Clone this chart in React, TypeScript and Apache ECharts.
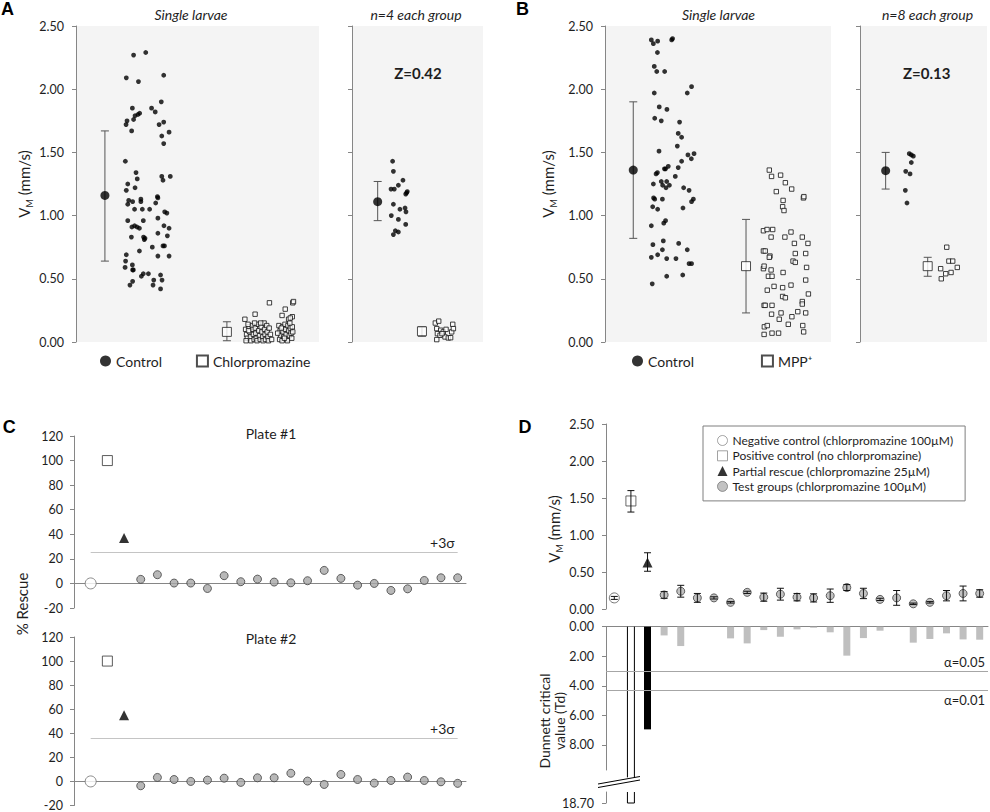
import React, { useEffect, useRef } from 'react';
import * as echarts from 'echarts';

const FONT = 'Lato, "Noto Sans", "DejaVu Sans", sans-serif';
const AX = '#868686';
const TXT = '#1e1e1e';
const BG = '#f4f4f4';

// ---------- Panel A : single larvae (x = jitter within the plot, y = V_M mm/s)
const A_SINGLE_CONTROL: number[][] = [
  [2.87,2.29],[2.37,2.27],[2.07,2.09],[3.61,2.11],[2.57,2.06],[3.51,1.90],[2.32,1.85],[3.11,1.85],[3.26,1.82],[2.43,1.79],
  [2.55,1.80],[2.62,1.81],[2.10,1.75],[2.06,1.72],[2.37,1.76],[3.42,1.72],[3.61,1.74],[2.29,1.67],[3.83,1.66],[3.53,1.63],
  [3.61,1.57],[2.03,1.43],[3.53,1.31],[3.58,1.28],[3.88,1.31],[2.47,1.34],[2.13,1.25],[2.52,1.29],[2.07,1.20],[2.43,1.22],
  [2.17,1.12],[2.13,1.09],[2.33,1.11],[2.67,1.13],[2.67,1.11],[3.28,1.10],[3.37,1.14],[2.41,1.05],[2.73,1.05],[3.03,1.05],
  [3.35,1.15],[3.65,1.03],[3.74,1.02],[2.13,0.96],[2.77,0.96],[3.37,0.98],[2.30,0.91],[2.41,0.92],[2.51,0.91],[2.61,0.90],
  [3.62,0.92],[3.83,0.90],[2.28,0.83],[2.78,0.83],[2.84,0.82],[2.81,0.81],[3.37,0.86],[3.76,0.84],[3.64,0.76],[2.61,0.72],
  [3.14,0.75],[3.58,0.76],[3.37,0.68],[3.83,0.68],[2.07,0.69],[2.04,0.64],[2.02,0.59],[2.32,0.61],[2.36,0.57],[2.77,0.54],
  [2.98,0.54],[2.33,0.57],[2.69,0.52],[3.48,0.53],[3.20,0.49],[2.33,0.48],[2.22,0.45],[3.17,0.45],[3.54,0.49],[3.48,0.42]
];
const A_SINGLE_CHLOR: number[][] = [
  [6.98,0.10],[7.02,0.06],[7.05,0.03],[7.00,0.01],[7.12,0.12],[7.15,0.08],[7.18,0.04],[7.20,0.01],[7.25,0.13],[7.28,0.10],
  [7.30,0.06],[7.33,0.02],[7.38,0.11],[7.40,0.07],[7.42,0.03],[7.45,0.01],[7.50,0.14],[7.52,0.09],[7.55,0.05],[7.58,0.02],
  [7.62,0.12],[7.65,0.08],[7.68,0.04],[7.70,0.01],[7.74,0.15],[7.76,0.10],[7.78,0.06],[7.80,0.02],[7.85,0.13],[7.87,0.08],
  [7.90,0.04],[7.92,0.01],[7.95,0.11],[8.00,0.06],[7.60,0.15],[7.35,0.15],[7.10,0.09],[6.95,0.18],[7.37,0.22],[7.96,0.31],
  [8.61,0.26],[8.48,0.21],[8.90,0.20],[8.92,0.31],[8.95,0.32],[8.75,0.18],[8.82,0.19],[8.35,0.13],[8.40,0.09],[8.42,0.05],
  [8.38,0.02],[8.50,0.12],[8.52,0.08],[8.55,0.04],[8.48,0.01],[8.60,0.14],[8.62,0.10],[8.65,0.06],[8.68,0.02],[8.72,0.13],
  [8.75,0.09],[8.78,0.05],[8.70,0.01],[8.82,0.11],[8.85,0.07],[8.88,0.03],[8.90,0.12],[8.92,0.08],[8.45,0.11],[8.58,0.03],
  [8.80,0.15],[8.30,0.07],[8.05,0.02],[7.08,0.14]
];
const A_SINGLE_MEANS: number[][] = [[1.19, 1.16], [6.21, 0.08]];
const A_SINGLE_SD: number[][] = [[1.19, 0.64, 1.67], [6.21, 0.01, 0.16]];

// ---------- Panel A : n = 4 each group
const A_N4_CONTROL: number[][] = [
  [3.10,1.43],[3.16,1.35],[3.89,1.28],[3.54,1.24],[2.98,1.21],[3.23,1.21],[4.22,1.19],[4.17,1.18],[4.10,1.17],[3.16,1.09],
  [3.66,1.05],[4.05,1.06],[4.12,1.03],[3.00,1.00],[3.54,0.97],[4.10,0.93],[3.31,0.88],[3.54,0.87],[3.16,0.85]
];
const A_N4_CHLOR: number[][] = [
  [6.36,0.15],[6.62,0.165],[6.47,0.106],[6.77,0.093],[6.52,0.066],[6.72,0.053],[6.97,0.08],[7.18,0.10],[7.10,0.04],
  [7.35,0.032],[7.53,0.034],[7.61,0.08],[7.69,0.14],[7.74,0.106],[6.47,0.019],[6.87,0.066]
];
const A_N4_MEANS: number[][] = [[1.96, 1.11], [5.34, 0.085]];
const A_N4_SD: number[][] = [[1.96, 0.96, 1.27], [5.34, 0.045, 0.12]];

// ---------- Panel B : single larvae
const B_SINGLE_CONTROL: number[][] = [
  [2.05,2.39],[2.14,2.36],[2.33,2.38],[2.32,2.29],[2.95,2.39],[2.99,2.40],[2.18,2.18],[2.29,2.14],[2.64,2.14],[2.18,1.97],
  [3.64,1.97],[3.83,2.02],[2.40,1.86],[2.74,1.84],[2.20,1.77],[2.49,1.75],[3.30,1.74],[3.24,1.65],[3.39,1.62],[3.20,1.55],
  [2.39,1.51],[3.94,1.49],[3.82,1.45],[3.67,1.48],[3.39,1.43],[3.24,1.38],[2.26,1.33],[2.32,1.34],[2.63,1.37],[2.68,1.37],
  [2.80,1.39],[3.11,1.31],[2.14,1.25],[2.49,1.27],[2.73,1.27],[2.55,1.24],[2.70,1.22],[2.85,1.24],[2.11,1.07],[2.33,1.05],
  [2.54,1.13],[2.15,1.14],[2.20,1.13],[3.48,1.22],[3.72,1.20],[3.91,1.13],[3.83,1.11],[3.45,1.06],[2.05,0.92],[2.68,0.96],
  [2.60,0.94],[2.12,0.77],[2.58,0.80],[2.33,0.69],[2.54,0.73],[2.05,0.67],[2.73,0.66],[3.14,0.66],[3.26,0.78],[3.64,0.73],
  [3.72,0.62],[3.83,0.62],[2.73,0.52],[3.44,0.53],[2.09,0.46]
];
const B_SINGLE_MPP: number[][] = [
  [7.27,1.36],[7.37,1.31],[7.77,1.32],[7.98,1.26],[7.58,1.19],[8.26,1.21],[7.88,1.12],[7.86,1.07],[7.92,1.04],[8.78,1.14],
  [8.80,1.15],[7.01,0.88],[7.17,0.89],[7.42,0.89],[7.35,0.83],[7.96,0.83],[8.23,0.87],[8.38,0.78],[8.73,0.83],[8.98,0.78],
  [7.01,0.72],[7.09,0.72],[7.30,0.68],[7.27,0.67],[8.42,0.70],[8.32,0.64],[8.42,0.63],[8.88,0.70],[7.01,0.58],[7.04,0.60],
  [7.35,0.57],[7.23,0.52],[7.39,0.52],[7.88,0.55],[8.92,0.59],[7.18,0.41],[7.48,0.44],[7.86,0.43],[7.86,0.36],[7.98,0.35],
  [8.23,0.45],[8.88,0.49],[9.00,0.38],[7.04,0.29],[7.09,0.29],[7.39,0.29],[7.37,0.22],[7.79,0.23],[7.71,0.18],[8.11,0.14],
  [8.27,0.20],[8.53,0.24],[8.88,0.23],[8.73,0.32],[8.73,0.30],[7.05,0.12],[7.18,0.13],[8.75,0.13],[7.04,0.06],[7.39,0.07],
  [7.68,0.07],[8.79,0.08]
];
const B_SINGLE_MEANS: number[][] = [[1.25, 1.36], [6.24, 0.60]];
const B_SINGLE_SD: number[][] = [[1.25, 0.82, 1.90], [6.24, 0.23, 0.97]];

// ---------- Panel B : n = 8 each group
const B_N8_CONTROL: number[][] = [[3.88,1.49],[4.04,1.48],[4.20,1.47],[4.04,1.42],[3.60,1.35],[3.94,1.33],[3.57,1.20],[3.70,1.10]];
const B_N8_MPP: number[][] = [[6.83,0.75],[7.00,0.64],[7.30,0.64],[7.66,0.59],[6.35,0.58],[6.75,0.54],[7.17,0.55],[6.40,0.50]];
const B_N8_MEANS: number[][] = [[2.02, 1.355], [5.33, 0.60]];
const B_N8_SD: number[][] = [[2.02, 1.21, 1.50], [5.33, 0.52, 0.67]];

// ---------- Panel C : % rescue (positions 1..23)
const C_PLATE1_CONTROLS = { neg: 0, pos: 100, partial: 37, sigma3: 25.2 };
const C_PLATE1_TEST = [3.3, 7.1, 0.3, 0.3, -4.1, 6.3, 1.4, 3.5, 1.1, 0.5, 2.2, 10.6, 4.1, -1.4, 0, -5.7, -4.4, 2.4, 4.6, 4.6];
const C_PLATE2_CONTROLS = { neg: 0, pos: 100, partial: 55, sigma3: 35.8 };
const C_PLATE2_TEST = [-3.6, 3.3, 1.6, 0, 1.1, 2.7, -0.8, 3.0, 3.0, 6.8, 0.3, -2.5, 5.8, 1.6, -1.4, 0.8, 3.6, 0.8, -0.3, -1.6];

// ---------- Panel D
const D_CATS = ['Neg', 'Pos', 'Partial', ...C_PLATE1_TEST.map((_, i) => `T${i + 1}`)];
const D_NEG = { mean: 0.15, err: 0.02 };
const D_POS = { mean: 1.46, lo: 1.31, hi: 1.60 };
const D_PARTIAL = { mean: 0.63, lo: 0.51, hi: 0.76 };
const D_TEST_MEAN = [0.19, 0.24, 0.15, 0.15, 0.09, 0.225, 0.16, 0.20, 0.16, 0.15, 0.18, 0.29, 0.21, 0.13, 0.15, 0.07, 0.09, 0.18, 0.21, 0.21];
const D_TEST_ERR = [0.045, 0.08, 0.06, 0.015, 0.01, 0.015, 0.055, 0.08, 0.05, 0.055, 0.09, 0.04, 0.07, 0.015, 0.1, 0.01, 0.01, 0.07, 0.1, 0.05];
const D_TD_POS = 18.7;
const D_TD_PARTIAL = 6.95;
const D_TD_TEST = [0.59, 1.31, 0, 0, 0.79, 1.13, 0.23, 0.68, 0.18, 0.07, 0.38, 1.96, 0.77, 0.27, 0, 1.08, 0.83, 0.45, 0.86, 0.88];
const D_CRIT = [{ v: 3.0, label: 'α=0.05' }, { v: 4.31, label: 'α=0.01' }];
const D_BREAK = { upperMax: 9.7, drawTo: 10.2, lowerMin: 18.0 };

const NAME_NEG = 'Negative control (chlorpromazine 100µM)';
const NAME_POS = 'Positive control (no chlorpromazine)';
const NAME_PART = 'Partial rescue (chlorpromazine 25µM)';
const NAME_TEST = 'Test groups (chlorpromazine 100µM)';

function errorBars(cap: number, color: string) {
  return (params: any, api: any) => {
    const x = api.value(0);
    const lo = api.coord([x, api.value(1)]);
    const hi = api.coord([x, api.value(2)]);
    const st = { stroke: color, lineWidth: 1 };
    return {
      type: 'group',
      children: [
        { type: 'line', shape: { x1: lo[0], y1: lo[1], x2: hi[0], y2: hi[1] }, style: st },
        { type: 'line', shape: { x1: lo[0] - cap, y1: lo[1], x2: lo[0] + cap, y2: lo[1] }, style: st },
        { type: 'line', shape: { x1: hi[0] - cap, y1: hi[1], x2: hi[0] + cap, y2: hi[1] }, style: st },
      ],
    };
  };
}

const label = (extra: any = {}) => ({ color: TXT, fontSize: 12.5, fontFamily: FONT, margin: 12, ...extra });
const line = { show: true, lineStyle: { color: AX, width: 1 } };
const tick = { show: true, inside: false, length: 4, lineStyle: { color: AX } };

const vmName = {
  name: '{v|V}{s|M}{v| (mm/s)}',
  nameLocation: 'middle',
  nameRotate: 90,
  nameTextStyle: {
    rich: {
      v: { fontSize: 15, fontFamily: FONT, color: TXT, lineHeight: 20, verticalAlign: 'middle' },
      s: { fontSize: 9, fontFamily: FONT, color: TXT, lineHeight: 20, verticalAlign: 'bottom' },
    },
  },
};

function vmAxis(gridIndex: number, showLabel: boolean, nameGap?: number) {
  return {
    type: 'value', gridIndex, min: 0, max: 2.5, interval: 0.5,
    axisLine: line, axisTick: tick, splitLine: { show: false },
    axisLabel: label({ show: showLabel, formatter: (v: number) => v.toFixed(2) }),
    ...(nameGap !== undefined ? { ...vmName, nameGap } : {}),
  };
}

function scatterGroupSeries(grid: number, prefix: string, means: number[][], sd: number[][], dots1: number[][], dots2: number[][], names: string[]) {
  return [
    { type: 'custom', name: prefix + 'err', xAxisIndex: grid, yAxisIndex: grid, z: 1, silent: true,
      renderItem: errorBars(4, '#555'), data: sd, encode: { x: 0, y: [1, 2] } },
    { type: 'scatter', name: prefix + 'dots1', xAxisIndex: grid, yAxisIndex: grid, z: 3, silent: true,
      symbol: 'circle', symbolSize: 4.8, itemStyle: { color: '#000' }, data: dots1 },
    { type: 'scatter', name: prefix + 'dots2', xAxisIndex: grid, yAxisIndex: grid, z: 3, silent: true,
      symbol: 'rect', symbolSize: 4.4, itemStyle: { color: '#fff', borderColor: '#111', borderWidth: 1 }, data: dots2 },
    { type: 'scatter', name: names[0], xAxisIndex: grid, yAxisIndex: grid, z: 4, silent: true,
      symbol: 'circle', symbolSize: 9, itemStyle: { color: '#000' }, data: [means[0]] },
    { type: 'scatter', name: names[1], xAxisIndex: grid, yAxisIndex: grid, z: 4, silent: true,
      symbol: 'rect', symbolSize: 9, itemStyle: { color: '#fff', borderColor: '#222', borderWidth: 1 }, data: [means[1]] },
  ];
}

function plateSeries(grid: number, tag: string, ctrl: any, test: number[]) {
  return [
    { type: 'scatter', name: tag + 'neg', xAxisIndex: grid, yAxisIndex: grid, silent: true, z: 3,
      symbol: 'circle', symbolSize: 11, itemStyle: { color: '#fff', borderColor: '#6f6f6f', borderWidth: 1 }, data: [[1, ctrl.neg]] },
    { type: 'scatter', name: tag + 'pos', xAxisIndex: grid, yAxisIndex: grid, silent: true, z: 3,
      symbol: 'rect', symbolSize: 10, itemStyle: { color: '#fff', borderColor: '#333', borderWidth: 1 }, data: [[2, ctrl.pos]] },
    { type: 'scatter', name: tag + 'partial', xAxisIndex: grid, yAxisIndex: grid, silent: true, z: 3,
      symbol: 'triangle', symbolSize: 10, itemStyle: { color: '#000' }, data: [[3, ctrl.partial]] },
    { type: 'scatter', name: tag + 'test', xAxisIndex: grid, yAxisIndex: grid, silent: true, z: 3,
      symbol: 'circle', symbolSize: 8, itemStyle: { color: '#a6a6a6', borderColor: '#404040', borderWidth: 1 },
      data: test.map((v, i) => [i + 4, v]),
      markLine: {
        silent: true, symbol: ['none', 'none'],
        lineStyle: { color: '#c4c4c4', type: 'solid', width: 1 },
        label: { show: true, position: 'insideEndTop', formatter: '+3σ', color: TXT, fontSize: 14, fontFamily: FONT, distance: 3 },
        data: [[{ coord: [1, ctrl.sigma3] }, { coord: [test.length + 3, ctrl.sigma3] }]],
      } },
  ];
}

function buildOption(): any {
  const grids = [
    { left: 76, top: 26, width: 243, height: 316, show: true, backgroundColor: BG, borderWidth: 0 },
    { left: 352, top: 26, width: 131, height: 316, show: true, backgroundColor: BG, borderWidth: 0 },
    { left: 605, top: 26, width: 226, height: 316, show: true, backgroundColor: BG, borderWidth: 0 },
    { left: 860, top: 26, width: 127, height: 316, show: true, backgroundColor: BG, borderWidth: 0 },
    { left: 74, top: 436, width: 392, height: 172 },
    { left: 74, top: 637, width: 392, height: 170 },
    { left: 606, top: 424, width: 382, height: 185 },
    { left: 606, top: 626.7, width: 382, height: 143.3 },
    { left: 606, top: 792, width: 382, height: 11 },
  ];
  const hiddenX = (g: number) => ({ type: 'value', gridIndex: g, min: 0, max: 10, show: false });
  const plateX = (g: number) => ({
    type: 'value', gridIndex: g, min: 0, max: 23.5,
    axisLine: { show: true, onZero: true, lineStyle: { color: AX } },
    axisTick: { show: false }, axisLabel: { show: false }, splitLine: { show: false },
  });
  const plateY = (g: number) => ({
    type: 'value', gridIndex: g, min: -20, max: 120, interval: 20,
    axisLine: line, axisTick: tick, splitLine: { show: false }, axisLabel: label({ margin: 11 }),
  });
  const xAxis = [
    hiddenX(0), hiddenX(1), hiddenX(2), hiddenX(3), plateX(4), plateX(5),
    { type: 'category', gridIndex: 6, data: D_CATS, show: false },
    { type: 'category', gridIndex: 7, data: D_CATS, position: 'top',
      axisLine: { show: true, onZero: false, lineStyle: { color: AX } }, axisTick: { show: false }, axisLabel: { show: false } },
    { type: 'category', gridIndex: 8, data: D_CATS, show: false },
  ];
  const yAxis = [
    vmAxis(0, true, 42), vmAxis(1, false), vmAxis(2, true, 47), vmAxis(3, false),
    plateY(4), plateY(5),
    vmAxis(6, true),
    { type: 'value', gridIndex: 7, inverse: true, min: 0, max: D_BREAK.upperMax,
      axisLine: line, axisTick: { ...tick, customValues: [0, 2, 4, 6, 8] }, splitLine: { show: false },
      axisLabel: label({ customValues: [0, 2, 4, 6, 8], formatter: (v: number) => v.toFixed(2) }) },
    { type: 'value', gridIndex: 8, inverse: true, min: D_BREAK.lowerMin, max: D_TD_POS,
      axisLine: line, axisTick: { ...tick, customValues: [D_TD_POS] }, splitLine: { show: false },
      axisLabel: label({ customValues: [D_TD_POS], formatter: (v: number) => v.toFixed(2) }) },
  ];

  const series: any[] = [
    ...scatterGroupSeries(0, 'a1', A_SINGLE_MEANS, A_SINGLE_SD, A_SINGLE_CONTROL, A_SINGLE_CHLOR, ['Control', 'Chlorpromazine']),
    ...scatterGroupSeries(1, 'a2', A_N4_MEANS, A_N4_SD, A_N4_CONTROL, A_N4_CHLOR, ['a2c', 'a2x']),
    ...scatterGroupSeries(2, 'b1', B_SINGLE_MEANS, B_SINGLE_SD, B_SINGLE_CONTROL, B_SINGLE_MPP, ['Control', 'MPP⁺']),
    ...scatterGroupSeries(3, 'b2', B_N8_MEANS, B_N8_SD, B_N8_CONTROL, B_N8_MPP, ['b2c', 'b2x']),
    ...plateSeries(4, 'p1', C_PLATE1_CONTROLS, C_PLATE1_TEST),
    ...plateSeries(5, 'p2', C_PLATE2_CONTROLS, C_PLATE2_TEST),
    // D top
    { type: 'scatter', name: NAME_NEG, xAxisIndex: 6, yAxisIndex: 6, silent: true, z: 3,
      symbol: 'circle', symbolSize: 10, itemStyle: { color: '#fff', borderColor: '#555', borderWidth: 1 }, data: [[0, D_NEG.mean]] },
    { type: 'scatter', name: NAME_POS, xAxisIndex: 6, yAxisIndex: 6, silent: true, z: 3,
      symbol: 'rect', symbolSize: 10, itemStyle: { color: '#fff', borderColor: '#444', borderWidth: 1 }, data: [[1, D_POS.mean]] },
    { type: 'scatter', name: NAME_PART, xAxisIndex: 6, yAxisIndex: 6, silent: true, z: 3,
      symbol: 'triangle', symbolSize: 10, itemStyle: { color: '#000' }, data: [[2, D_PARTIAL.mean]] },
    { type: 'scatter', name: NAME_TEST, xAxisIndex: 6, yAxisIndex: 6, silent: true, z: 3,
      symbol: 'circle', symbolSize: 8, itemStyle: { color: '#b3b3b3', borderColor: '#404040', borderWidth: 1 },
      data: D_TEST_MEAN.map((v, i) => [i + 3, v]) },
    { type: 'custom', name: 'derr', xAxisIndex: 6, yAxisIndex: 6, z: 5, silent: true,
      renderItem: errorBars(3.5, '#111'), encode: { x: 0, y: [1, 2] },
      data: [
        [0, D_NEG.mean - D_NEG.err, D_NEG.mean + D_NEG.err],
        [1, D_POS.lo, D_POS.hi],
        [2, D_PARTIAL.lo, D_PARTIAL.hi],
        ...D_TEST_MEAN.map((v, i) => [i + 3, v - D_TEST_ERR[i], v + D_TEST_ERR[i]]),
      ] },
    // D bottom (Dunnett)
    { type: 'bar', name: 'td', xAxisIndex: 7, yAxisIndex: 7, silent: true, barWidth: 7,
      itemStyle: { color: '#bfbfbf' },
      data: ['-', '-', { value: D_TD_PARTIAL, itemStyle: { color: '#000' } }, ...D_TD_TEST],
      markLine: {
        silent: true, symbol: ['none', 'none'],
        lineStyle: { color: '#a6a6a6', type: 'solid', width: 1 },
        data: D_CRIT.map((c, i) => ({
          yAxis: c.v,
          label: { show: true, formatter: c.label, position: i === 0 ? 'insideEndTop' : 'insideEndBottom',
            color: TXT, fontSize: 13, fontFamily: FONT, distance: 3 },
        })),
      } },
    { type: 'custom', name: 'tdpos', xAxisIndex: 7, yAxisIndex: 7, silent: true, z: 4,
      data: [[1, D_TD_POS]],
      renderItem: (params: any, api: any) => {
        const x = api.value(0);
        const w = api.size([1, 0])[0] * 0.42;
        const a = api.coord([x, 0]);
        const b = api.coord([x, D_BREAK.drawTo]);
        const st = { stroke: '#000', lineWidth: 1 };
        return { type: 'group', children: [
          { type: 'line', shape: { x1: a[0] - w / 2, y1: a[1], x2: a[0] - w / 2, y2: b[1] }, style: st },
          { type: 'line', shape: { x1: a[0] + w / 2, y1: a[1], x2: a[0] + w / 2, y2: b[1] }, style: st },
        ] };
      } },
    { type: 'custom', name: 'tdpos2', xAxisIndex: 8, yAxisIndex: 8, silent: true, z: 4,
      data: [[1, D_TD_POS]],
      renderItem: (params: any, api: any) => {
        const x = api.value(0);
        const w = api.size([1, 0])[0] * 0.42;
        const a = api.coord([x, D_BREAK.lowerMin]);
        const b = api.coord([x, api.value(1)]);
        return { type: 'polyline', shape: { points: [[a[0] - w / 2, a[1]], [a[0] - w / 2, b[1]], [a[0] + w / 2, b[1]], [a[0] + w / 2, a[1]]] },
          style: { stroke: '#000', lineWidth: 1, fill: null } };
      } },
  ];

  const t = (x: number, y: number, text: string, extra: any = {}, rotation = 0) => ({
    type: 'text', x, y, rotation, silent: true,
    style: { text, fontFamily: FONT, fontSize: 13, fill: TXT, align: 'center', verticalAlign: 'middle', ...extra },
  });
  const letter = (x: number, y: number, s: string) => t(x, y, s, { fontFamily: '"Liberation Sans", Arial, sans-serif', fontWeight: 'bold', fontSize: 18, fill: '#000' });

  const graphic = [
    letter(7.5, 9, 'A'), letter(522.5, 9, 'B'), letter(9.2, 426.7, 'C'), letter(525, 426.7, 'D'),
    t(191, 14, 'Single larvae', { fontStyle: 'italic', fontSize: 14 }),
    t(416, 14, 'n=4 each group', { fontStyle: 'italic', fontSize: 14 }),
    t(718.5, 14, 'Single larvae', { fontStyle: 'italic', fontSize: 14 }),
    t(927.5, 14, 'n=8 each group', { fontStyle: 'italic', fontSize: 14 }),
    t(418, 73, 'Z=0.42', { fontWeight: 'bold', fontSize: 15 }),
    t(926.7, 73, 'Z=0.13', { fontWeight: 'bold', fontSize: 15 }),
    t(271, 433, 'Plate #1', { fontSize: 14 }),
    t(271, 638, 'Plate #2', { fontSize: 14 }),
    t(22, 604, '% Rescue', { fontSize: 15 }, Math.PI / 2),
    t(554, 529, '{v|V}{s|M}{v| (mm/s)}', {
      rich: {
        v: { fontSize: 15, fontFamily: FONT, fill: TXT, lineHeight: 20, verticalAlign: 'middle' },
        s: { fontSize: 9, fontFamily: FONT, fill: TXT, lineHeight: 20, verticalAlign: 'bottom' },
      },
    }, Math.PI / 2),
    t(552, 721, 'Dunnett critical\nvalue (Td)', { fontSize: 14, lineHeight: 15 }, Math.PI / 2),
    { type: 'line', silent: true, shape: { x1: 598, y1: 784, x2: 640, y2: 776.5 }, style: { stroke: '#000', lineWidth: 1 } },
    { type: 'line', silent: true, shape: { x1: 598, y1: 787.5, x2: 640, y2: 780 }, style: { stroke: '#000', lineWidth: 1 } },
  ];

  const legText = { fontSize: 14, fontFamily: FONT, color: TXT };
  const legend = [
    { data: [{ name: 'Control', icon: 'circle' }, { name: 'Chlorpromazine', icon: 'rect' }], left: 100, top: 354,
      itemGap: 34, itemWidth: 11, itemHeight: 11, textStyle: legText, selectedMode: false, padding: 0 },
    { data: [{ name: 'Control', icon: 'circle' }, { name: 'MPP⁺', icon: 'rect' }], left: 632, top: 354,
      itemGap: 67, itemWidth: 11, itemHeight: 11, textStyle: legText, selectedMode: false, padding: 0 },
    { data: [
        { name: NAME_NEG, icon: 'circle', itemStyle: { color: '#fff', borderColor: '#8c8c8c', borderWidth: 1 } },
        { name: NAME_POS, icon: 'rect', itemStyle: { color: '#fff', borderColor: '#8c8c8c', borderWidth: 1 } },
        { name: NAME_PART, icon: 'triangle' },
        { name: NAME_TEST, icon: 'circle', itemStyle: { color: '#b3b3b3', borderColor: '#777', borderWidth: 1 } },
      ],
      orient: 'vertical', left: 703, top: 426, padding: [7, 12, 7, 14], itemGap: 0.3, itemWidth: 10, itemHeight: 10,
      borderColor: '#7f7f7f', borderWidth: 1, selectedMode: false,
      textStyle: { fontSize: 12, fontFamily: FONT, color: TXT, lineHeight: 15 } },
  ];

  return { animation: false, backgroundColor: '#fff', textStyle: { fontFamily: FONT }, grid: grids, xAxis, yAxis, series, graphic, legend, tooltip: { show: false } };
}

export default function App() {
  const ref = useRef<HTMLDivElement>(null);
  useEffect(() => {
    document.body.style.margin = '0';
    const chart = echarts.init(ref.current as HTMLDivElement, null, { renderer: 'svg', width: 990, height: 812 });
    chart.setOption(buildOption());
    return () => chart.dispose();
  }, []);
  return <div ref={ref} style={{ width: 990, height: 812, position: 'absolute', left: 0, top: 0, background: '#fff' }} />;
}
